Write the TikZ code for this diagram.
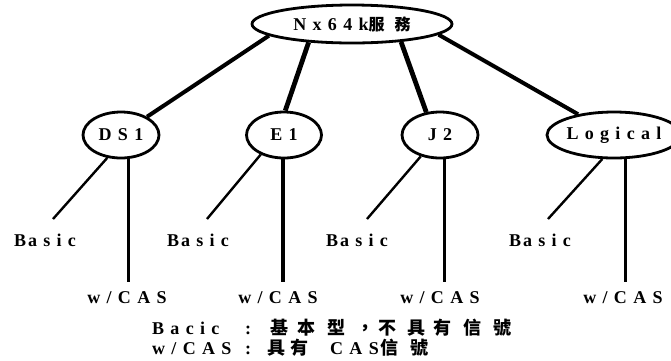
\documentclass[tikz,border=0pt]{standalone}
\usepackage{fontspec}
\setmainfont{Liberation Serif}
\newfontfamily\lat{Liberation Serif}[LetterSpace=35]
\newfontfamily\cjk{Noto Sans CJK TC}
\usetikzlibrary{shapes.geometric}
\newcommand\cbx[2]{\makebox[#1pt][l]{#2}}
\tikzset{
  txt/.style={font=\lat\bfseries\fontsize{18}{20}\selectfont},
  ell/.style={ellipse, draw, line width=2.8pt, inner sep=0pt, txt, minimum height=46pt},
  lab/.style={inner sep=0pt, txt},
  sideline/.style={line width=4pt},
  midline/.style={line width=4.8pt},
  diag/.style={line width=2.4pt},
  vert/.style={line width=3.4pt},
}
\begin{document}
\begin{tikzpicture}[x=1pt,y=-1pt]
\useasboundingbox (0,0) rectangle (671,360);
% nodes
\node[ell, minimum width=200pt, minimum height=38pt] (top) at (352,24)
  {Nx64k{\cjk\fontsize{16}{18}\selectfont 服\hspace{10pt}務}\hspace{10pt}};
\node[ell, minimum width=76pt] (ds1) at (121,135) {DS1};
\node[ell, minimum width=75pt] (e1)  at (284,135) {E1};
\node[ell, minimum width=76pt] (j2)  at (440,135) {J2};
\node[ell, minimum width=110pt] (lg) at (614,135) {Logical};
% labels
\node[lab] (b1) at (45,240)  {B\kern2pt asic};
\node[lab] (b2) at (198,240) {B\kern2pt asic};
\node[lab] (b3) at (357,240) {B\kern2pt asic};
\node[lab] (b4) at (540,240) {B\kern2pt asic};
\node[lab] (c1) at (127,298) {w/CAS};
\node[lab] (c2) at (278,298) {w/CAS};
\node[lab] (c3) at (440,298) {w/CAS};
\node[lab] (c4) at (623,298) {w/CAS};
% free ends
\coordinate (d1) at (53,219);
\coordinate (d2) at (207,219);
\coordinate (d3) at (367,219);
\coordinate (d4) at (548,219);
\coordinate (vend) at (0,282);
% top connectors
\draw[sideline] (top.188.6) -- (ds1.35);
\draw[midline]  (top.203.5) -- (e1.87);
\draw[midline]  (top.340.8) -- (j2.121);
\draw[sideline] (top.353.6) -- (lg.150);
% lower connectors
\draw[diag] (ds1.239) -- (d1);
\draw[diag] (e1.220) -- (d2);
\draw[diag] (j2.228) -- (d3);
\draw[diag] (lg.244) -- (d4);
\draw[vert] (ds1.287) -- (ds1.287 |- vend);
\draw[vert] (e1.268) -- (e1.268 |- vend);
\draw[vert] (j2.280) -- (j2.280 |- vend);
\draw[vert] (lg.296) -- (lg.296 |- vend);
% legend
\node[lab, anchor=base west] (leg1) at (152,334.5)
  {\cbx{118}{\cbx{93}{Bacic}:}{\cjk\cbx{27}{基}\cbx{30}{本}\cbx{29}{型}\cbx{22}{，}\cbx{29}{不}\cbx{26}{具}\cbx{30}{有}\cbx{30}{信}號}};
\node[lab, anchor=base west] (leg2) at (152,354.5)
  {\cbx{115}{\cbx{93}{w/CAS}:}{\cjk\cbx{23}{具}\cbx{40}{有}}\cbx{50}{CAS}{\cjk\cbx{30}{信}號}};
\end{tikzpicture}
\end{document}
